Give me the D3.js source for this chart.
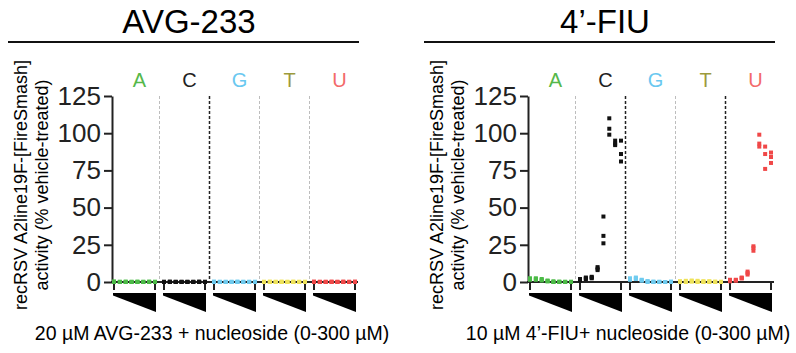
<!DOCTYPE html>
<html>
<head>
<meta charset="utf-8">
<script src="https://cdn.jsdelivr.net/npm/d3@7"></script>
<style>
    body { margin: 0; background: #fff; }
    svg { display: block; font-family: "Liberation Sans", Arial, sans-serif; }
</style>
</head>
<body>
<div id="chart"></div>
<script>
'use strict';

// groups and dose series (0-300 uM, 8 doses, 3 replicates each)
const nucleosides = ['A', 'C', 'G', 'T', 'U'];
const concentrations = [0, 0.4, 1.2, 3.7, 11, 33, 100, 300];
const yTickValues = [0, 25, 50, 75, 100, 125];

// 20 uM AVG-233 + nucleoside
const avgA = [[0.3, 0, 0.2], [0, 0.2, 0], [0.3, 0, 0], [0, 0.2, 0], [0, 0, 0.3], [0.2, 0, 0], [0, 0.3, 0], [0, 0, 0.2]];
const avgC = [[0.2, 0, 0], [0, 0.3, 0], [0, 0, 0.2], [0.2, 0, 0], [0, 0.2, 0], [0, 0, 0.2], [0.3, 0, 0], [0, 0.2, 0]];
const avgG = [[0.3, 0, 0], [0, 0.2, 0], [0, 0, 0.2], [0.2, 0, 0], [0, 0.3, 0], [0, 0, 0.2], [0.2, 0, 0], [0, 0.2, 0]];
const avgT = [[0.2, 0, 0], [0, 0.3, 0], [0.2, 0, 0], [0, 0, 0.3], [0, 0.2, 0], [0.3, 0, 0], [0, 0, 0.2], [0.2, 0, 0]];
const avgU = [[0.3, 0, 0], [0, 0.2, 0], [0.2, 0, 0], [0, 0, 0.3], [0.2, 0, 0], [0, 0.3, 0], [0, 0, 0.2], [0.3, 0, 0]];

// 10 uM 4'-FIU + nucleoside
const fiuA = [[2.5, 2, 1.5], [2, 2.5, 1.5], [2, 1.5, 1], [0.5, 1, 0.5], [0, 0.5, 0], [0, 0, 0.3], [0, 0.2, 0], [0, 0, 0.2]];
const fiuC = [[1, 1.5, 2], [2.5, 3, 2], [3, 3.5, 2.5], [8, 9, 10], [26, 31, 44], [110, 103, 99], [95, 92, 93], [95, 86, 81]];
const fiuG = [[1.5, 2, 2.5], [3, 2, 2.5], [1, 1.5, 1], [0.5, 0, 0.5], [0, 0.3, 0], [0, 0, 0.2], [0, 0, 0], [0, 0, 0.3]];
const fiuT = [[0.5, 0, 0.3], [0.8, 0.3, 0], [0.5, 1, 0.3], [0.3, 0.8, 0], [0.5, 0, 0.3], [0.3, 0.5, 0], [0, 0.3, 0], [0, 0, 0.2]];
const fiuU = [[0.5, 1, 1.5], [1, 1.5, 1], [2.5, 3, 2.5], [5, 6, 7], [21, 23, 24], [99, 93, 91], [91, 86, 76], [87, 84, 80]];

const pointColors = { A: '#4cbb47', C: '#111111', G: '#6fcbef', T: '#efe35a', U: '#f04848' };
const labelColors = { A: '#55b84a', C: '#222222', G: '#6ac8f0', T: '#9c9a3c', U: '#f36a6a' };

class DosePanel {
    constructor(svg, axisX, options) {
        this.svg = svg.append('g').attr('class', 'panel');
        this.axisX = axisX;
        this.options = options;

        this.y = d3.scaleLinear().domain([0, 125]).range([282, 96]);
        this.x = d3.scaleBand()
            .domain(nucleosides)
            .range([axisX, axisX + 245])
            .paddingInner(0.14)
            .paddingOuter(0.02);
        this.dose = d3.scalePoint()
            .domain(d3.range(concentrations.length))
            .range([1, this.x.bandwidth() - 1]);
    }

    render() {
        let self = this;
        let svg = this.svg;
        let x = this.x;
        let y = this.y;
        let ax = this.axisX;
        let opt = this.options;

        // title and underline
        svg.append('text')
            .attr('x', ax + 77).attr('y', 33)
            .attr('text-anchor', 'middle')
            .style('font-size', '33px')
            .text(opt.title);
        svg.append('line')
            .attr('x1', ax - 104).attr('x2', ax + 247)
            .attr('y1', 42).attr('y2', 42)
            .attr('stroke', '#111').attr('stroke-width', 2);

        // y label, two lines
        opt.yLabel.forEach(function (t, i) {
            svg.append('text')
                .attr('transform', 'translate(' + (ax - 85 + i * 21) + ',185) rotate(-90)')
                .attr('text-anchor', 'middle')
                .style('font-size', '18px')
                .text(t);
        });

        // separators between groups
        for (let i = 1; i < nucleosides.length; i++) {
            let prev = x(nucleosides[i - 1]) + x.bandwidth();
            let mid = (prev + x(nucleosides[i])) / 2;
            let dark = opt.darkSeparators.indexOf(i) >= 0;
            svg.append('line')
                .attr('x1', mid).attr('x2', mid)
                .attr('y1', y(125)).attr('y2', y(0))
                .attr('stroke', dark ? '#222' : '#bdbdbd')
                .attr('stroke-width', dark ? 1.5 : 1)
                .attr('stroke-dasharray', '3,2');
        }

        // group letters
        svg.selectAll('.groupLabel')
            .data(nucleosides)
            .enter().append('text')
            .attr('class', 'groupLabel')
            .attr('x', function (d) { return x(d) + x.bandwidth() / 2 + 5; })
            .attr('y', 87)
            .attr('text-anchor', 'middle')
            .style('font-size', '20px')
            .style('fill', function (d) { return labelColors[d]; })
            .text(function (d) { return d; });

        // y axis
        let yAxis = d3.axisLeft(y)
            .tickValues(yTickValues)
            .tickSize(8)
            .tickSizeOuter(0)
            .tickPadding(3);
        let gy = svg.append('g')
            .attr('transform', 'translate(' + ax + ',0)')
            .call(yAxis);
        gy.selectAll('path, line').attr('stroke', '#222').attr('stroke-width', 2);
        gy.selectAll('text')
            .style('font-size', '26px')
            .style('font-family', '"Liberation Sans", Arial, sans-serif')
            .attr('fill', '#222');

        // x axis line with group end ticks
        svg.append('line')
            .attr('x1', ax - 1).attr('x2', ax + 246)
            .attr('y1', y(0)).attr('y2', y(0))
            .attr('stroke', '#222').attr('stroke-width', 2);
        nucleosides.forEach(function (n) {
            [x(n) + 1, x(n) + x.bandwidth() - 1].forEach(function (tx) {
                svg.append('line')
                    .attr('x1', tx).attr('x2', tx)
                    .attr('y1', y(0)).attr('y2', y(0) + 8)
                    .attr('stroke', '#222').attr('stroke-width', 2);
            });
        });

        // dose wedges
        svg.selectAll('.wedge')
            .data(nucleosides)
            .enter().append('polygon')
            .attr('class', 'wedge')
            .attr('points', function (d) {
                let x1 = x(d), x2 = x(d) + x.bandwidth();
                return [[x1, 293], [x2, 293], [x2, 312], [x1, 295.5]].join(' ');
            })
            .attr('fill', '#000');

        // points
        nucleosides.forEach(function (n) {
            let pts = [];
            opt.data[n].forEach(function (reps, di) {
                reps.forEach(function (v) { pts.push({ dose: di, value: v }); });
            });
            svg.selectAll('.pt-' + n)
                .data(pts)
                .enter().append('rect')
                .attr('class', 'pt-' + n)
                .attr('x', function (d) { return x(n) + self.dose(d.dose) - 2; })
                .attr('y', function (d) { return y(d.value) - 2; })
                .attr('width', 4)
                .attr('height', 4)
                .attr('fill', pointColors[n]);
        });

        // x label
        svg.append('text')
            .attr('x', ax + 100).attr('y', 340)
            .attr('text-anchor', 'middle')
            .style('font-size', '19.5px')
            .text(opt.xLabel);
    }
}

let svg = d3.select('#chart').append('svg')
    .attr('width', 796)
    .attr('height', 353);

const yLabelLines = ['recRSV A2line19F-[FireSmash]', 'activity (% vehicle-treated)'];

new DosePanel(svg, 112, {
    title: 'AVG-233',
    yLabel: yLabelLines,
    xLabel: '20 \u00b5M AVG-233 + nucleoside (0-300 \u00b5M)',
    darkSeparators: [2],
    data: { A: avgA, C: avgC, G: avgG, T: avgT, U: avgU }
}).render();

new DosePanel(svg, 528, {
    title: '4\u2019-FIU',
    yLabel: yLabelLines,
    xLabel: '10 \u00b5M 4\u2019-FIU+ nucleoside (0-300 \u00b5M)',
    darkSeparators: [2, 4],
    data: { A: fiuA, C: fiuC, G: fiuG, T: fiuT, U: fiuU }
}).render();
</script>
</body>
</html>
